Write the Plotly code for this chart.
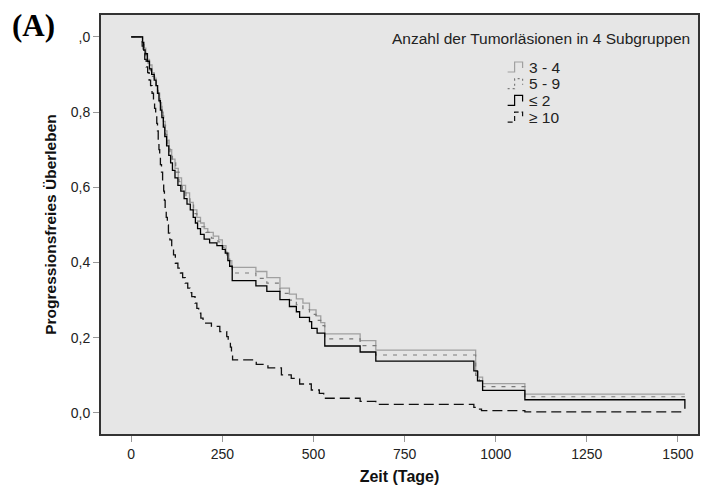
import plotly.graph_objects as go

# ---- data ----
groups = ["3 - 4", "5 - 9", "≤ 2", "≥ 10"]

t_34 = [0, 31, 35, 40, 45, 50, 57, 63, 68, 73, 78, 83, 88, 93, 98, 104, 111, 120, 129, 138, 149, 160, 170, 180, 190, 200, 210, 225, 240, 250, 260, 268, 276, 342, 372, 408, 434, 453, 471, 489, 507, 520, 531, 628, 671, 945, 952, 964, 1080, 1519]
s_34 = [1.0, 0.985, 0.97, 0.955, 0.94, 0.925, 0.905, 0.89, 0.87, 0.85, 0.825, 0.8, 0.775, 0.75, 0.725, 0.7, 0.675, 0.65, 0.625, 0.605, 0.585, 0.56, 0.54, 0.52, 0.505, 0.49, 0.48, 0.47, 0.46, 0.445, 0.425, 0.405, 0.387, 0.376, 0.36, 0.332, 0.316, 0.303, 0.292, 0.274, 0.258, 0.24, 0.21, 0.192, 0.167, 0.11, 0.095, 0.078, 0.05, 0.05]

t_59 = [0, 31, 35, 40, 46, 52, 58, 64, 69, 74, 79, 84, 89, 94, 100, 106, 113, 122, 131, 140, 150, 161, 171, 180, 192, 205, 220, 238, 252, 262, 270, 277, 342, 372, 408, 434, 453, 471, 489, 507, 520, 531, 628, 671, 945, 955, 964, 1080, 1519]
s_59 = [1.0, 0.985, 0.965, 0.95, 0.93, 0.91, 0.895, 0.88, 0.86, 0.84, 0.815, 0.79, 0.765, 0.74, 0.715, 0.69, 0.665, 0.64, 0.615, 0.595, 0.575, 0.555, 0.53, 0.51, 0.495, 0.48, 0.465, 0.455, 0.44, 0.42, 0.4, 0.372, 0.358, 0.345, 0.318, 0.3, 0.288, 0.275, 0.262, 0.246, 0.232, 0.197, 0.179, 0.154, 0.1, 0.085, 0.07, 0.043, 0.043]

t_le2 = [0, 31, 34, 38, 44, 50, 56, 63, 68, 72, 76, 80, 84, 88, 92, 97, 103, 108, 113, 120, 128, 136, 145, 153, 162, 170, 176, 182, 190, 200, 215, 235, 250, 258, 265, 270, 277, 342, 372, 408, 434, 453, 462, 489, 495, 510, 531, 628, 671, 940, 950, 964, 1080, 1519]
s_le2 = [1.0, 0.985, 0.965, 0.955, 0.935, 0.915, 0.9, 0.885, 0.87, 0.85, 0.83, 0.805, 0.785, 0.76, 0.735, 0.71, 0.685, 0.665, 0.645, 0.625, 0.605, 0.59, 0.57, 0.555, 0.54, 0.52, 0.505, 0.49, 0.475, 0.462, 0.452, 0.445, 0.435, 0.425, 0.405, 0.39, 0.352, 0.338, 0.323, 0.301, 0.283, 0.269, 0.254, 0.243, 0.225, 0.212, 0.178, 0.162, 0.138, 0.112, 0.085, 0.06, 0.035, 0.011]

t_ge10 = [0, 30, 33, 37, 41, 45, 49, 53, 57, 61, 64, 67, 70, 72, 74, 76, 78, 80, 83, 86, 89, 91, 93, 96, 99, 102, 106, 111, 116, 121, 128, 135, 141, 148, 155, 161, 166, 175, 180, 185, 191, 197, 220, 243, 262, 266, 272, 275, 278, 343, 375, 412, 439, 462, 494, 516, 528, 628, 671, 940, 950, 961, 1080, 1519]
s_ge10 = [1.0, 0.975, 0.955, 0.94, 0.92, 0.905, 0.885, 0.87, 0.85, 0.83, 0.81, 0.79, 0.77, 0.75, 0.725, 0.7, 0.68, 0.66, 0.64, 0.615, 0.59, 0.565, 0.545, 0.52, 0.5, 0.478, 0.46, 0.442, 0.42, 0.398, 0.385, 0.372, 0.36, 0.345, 0.332, 0.32, 0.309, 0.292, 0.278, 0.265, 0.252, 0.239, 0.23, 0.216, 0.203, 0.19, 0.175, 0.163, 0.141, 0.129, 0.12, 0.101, 0.092, 0.077, 0.061, 0.052, 0.039, 0.031, 0.023, 0.015, 0.01, 0.006, 0.003, 0.003]

x_ticks = [0, 250, 500, 750, 1000, 1250, 1500]
y_ticks = [0.0, 0.2, 0.4, 0.6, 0.8, 1.0]
y_ticktext = ["0,0", "0,2", "0,4", "0,6", "0,8", ",0"]

legend_title = "Anzahl der Tumorläsionen in 4 Subgruppen"

styles = [
    dict(color="#a0a0a0", width=1.3, dash="solid"),
    dict(color="#7a7a7a", width=1.2, dash="4px,6px"),
    dict(color="#000000", width=1.3, dash="solid"),
    dict(color="#111111", width=1.3, dash="10px,5px"),
]
series = list(zip(groups, [t_34, t_59, t_le2, t_ge10], [s_34, s_59, s_le2, s_ge10], styles))

FONT = "Arial, Liberation Sans, sans-serif"
W, H = 702, 493
ML, MR, MT, MB = 101, 2, 15, 59
PW, PH = W - ML - MR, H - MT - MB


def px2paper(px, py):
    return (px - ML) / PW, (H - MB - py) / PH


fig = go.Figure()
for name, t, s, ln in series:
    fig.add_trace(go.Scatter(x=t, y=s, mode="lines", name=name, showlegend=False,
                             line=dict(shape="hv", **ln)))

# manual legend (step-shaped glyphs like the original)
shapes = []
annotations = []
row0, row_gap = 67, 16.7
for i, (name, t, s, ln) in enumerate(series):
    ry = row0 + row_gap * i
    pts = [(509, ry + 5), (516, ry + 5), (516, ry - 5), (524, ry - 5), (524, ry + 1)]
    pp = [px2paper(a, b) for a, b in pts]
    path = "M " + " L ".join(f"{a:.5f},{b:.5f}" for a, b in pp)
    shapes.append(dict(type="path", path=path, xref="paper", yref="paper",
                       line=dict(color=ln["color"], width=1.2,
                                 dash="solid" if ln["dash"] == "solid" else ("2px,3px" if i == 1 else "5px,3px"))))
    tx, ty = px2paper(528, ry)
    annotations.append(dict(text=name, xref="paper", yref="paper", x=tx, y=ty,
                            xanchor="left", yanchor="middle", showarrow=False,
                            font=dict(family=FONT, size=15.5, color="#222")))

lx, ly = px2paper(542, 38)
annotations.append(dict(text=legend_title, xref="paper", yref="paper", x=lx, y=ly,
                        xanchor="center", yanchor="middle", showarrow=False,
                        font=dict(family=FONT, size=15.5, color="#222")))
ax_, ay_ = px2paper(10, 26)
annotations.append(dict(text="<b>(A)</b>", xref="paper", yref="paper", x=ax_, y=ay_,
                        xanchor="left", yanchor="middle", showarrow=False,
                        font=dict(family="Liberation Serif, Times New Roman, serif", size=31, color="#000")))

fig.update_layout(
    width=W, height=H,
    margin=dict(l=ML, r=MR, t=MT, b=MB),
    paper_bgcolor="white",
    plot_bgcolor="#e6e6e6",
    font=dict(family=FONT, size=14, color="#222"),
    showlegend=False,
    xaxis=dict(range=[-83, 1555], tickvals=x_ticks,
               ticks="outside", ticklen=6, tickcolor="#999", tickwidth=1,
               showgrid=False, zeroline=False,
               showline=True, linecolor="#333", linewidth=2, mirror=True,
               tickfont=dict(family=FONT, size=14, color="#222"),
               title=dict(text="<b>Zeit (Tage)</b>", font=dict(family=FONT, size=16, color="#111"),
                          standoff=10)),
    yaxis=dict(range=[-0.056, 1.058], tickvals=y_ticks, ticktext=y_ticktext,
               ticks="outside", ticklen=6, tickcolor="#999", tickwidth=1,
               showgrid=False, zeroline=False,
               showline=True, linecolor="#333", linewidth=2, mirror=True,
               tickfont=dict(family=FONT, size=14, color="#222"),
               title=dict(text="<b>Progressionsfreies Überleben</b>",
                          font=dict(family=FONT, size=15.5, color="#111"), standoff=10)),
    shapes=shapes,
    annotations=annotations,
)

fig.write_html("out.html")
